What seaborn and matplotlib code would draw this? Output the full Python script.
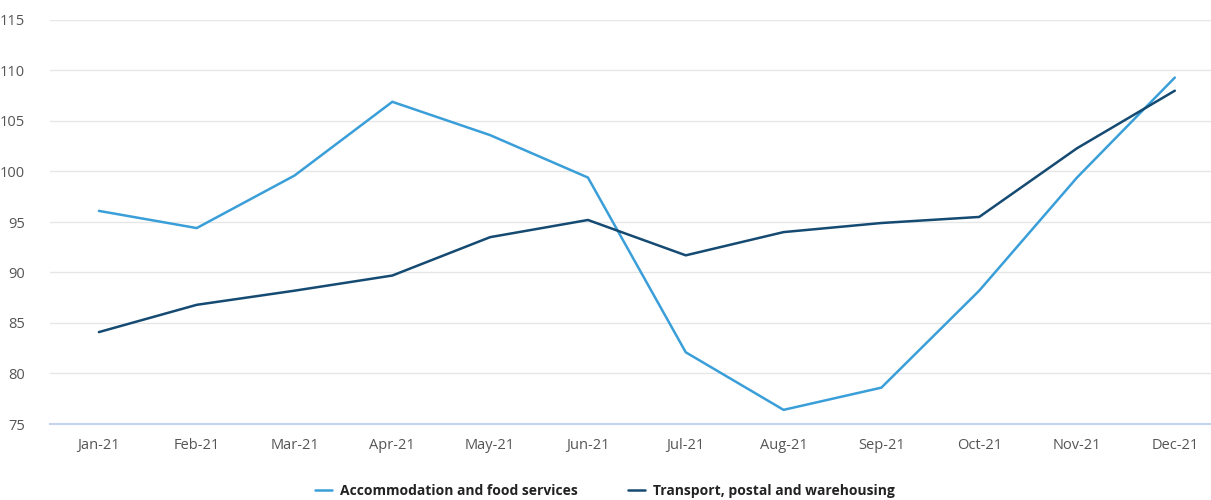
import matplotlib
matplotlib.use("Agg")
import matplotlib.pyplot as plt
import seaborn as sns
import pandas as pd

months = ["Jan-21", "Feb-21", "Mar-21", "Apr-21", "May-21", "Jun-21",
          "Jul-21", "Aug-21", "Sep-21", "Oct-21", "Nov-21", "Dec-21"]
accommodation = [96.1, 94.4, 99.6, 106.9, 103.6, 99.4, 82.1, 76.4, 78.6, 88.2, 99.4, 109.3]
transport = [84.1, 86.8, 88.2, 89.7, 93.5, 95.2, 91.7, 94.0, 94.9, 95.5, 102.3, 108.0]
series_names = ["Accommodation and food services", "Transport, postal and warehousing"]
yticks = [75, 80, 85, 90, 95, 100, 105, 110, 115]

df = pd.DataFrame({
    "month": months * 2,
    "value": accommodation + transport,
    "series": [series_names[0]] * len(months) + [series_names[1]] * len(months),
})
df["x"] = list(range(len(months))) * 2

sns.set_theme(style="white")
plt.rcParams["font.family"] = ["Open Sans", "DejaVu Sans"]

fig = plt.figure(figsize=(12.11, 5.0), dpi=100)
ax = fig.add_axes([50 / 1211, 1 - 424 / 500, 1161 / 1211, 404 / 500])

palette = {series_names[0]: "#3a9fd8", series_names[1]: "#154a72"}
sns.lineplot(data=df, x="x", y="value", hue="series", palette=palette,
             linewidth=1.8, ax=ax, legend=True, sort=False)

ax.set_ylim(75, 115)
ax.set_yticks(yticks)
ax.set_xlim(-0.5, 11.37)
ax.set_xticks(range(len(months)))
ax.set_xticklabels(months)
ax.set_xlabel("")
ax.set_ylabel("")
ax.yaxis.grid(True, color="#e6e6e6", linewidth=1)
ax.xaxis.grid(False)
for s in ["top", "right", "left"]:
    ax.spines[s].set_visible(False)
ax.spines["bottom"].set_color("#c5d3ee")
ax.spines["bottom"].set_linewidth(1.5)
ax.tick_params(axis="both", length=0, labelsize=10.5, colors="#555555")
ax.tick_params(axis="y", pad=18)
ax.tick_params(axis="x", pad=10)
for lab in ax.get_yticklabels():
    lab.set_horizontalalignment("right")

handles, labels = ax.get_legend_handles_labels()
leg = ax.legend(handles, labels, loc="center", bbox_to_anchor=(0.478, -0.165),
                ncol=2, frameon=False, handlelength=1.2, handletextpad=0.6,
                columnspacing=3.6, prop={"size": 10, "weight": "bold"})
for t in leg.get_texts():
    t.set_color("#222222")

fig.savefig("out.png", dpi=100, facecolor="white")
